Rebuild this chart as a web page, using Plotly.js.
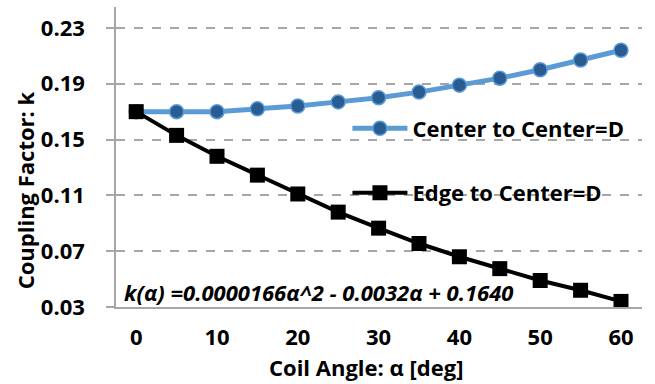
<!DOCTYPE html>
<html>
<head>
<meta charset="utf-8">
<script src="https://cdn.plot.ly/plotly-3.0.1.min.js"></script>
<style>html,body{margin:0;padding:0;background:#fff;}#chart{width:655px;height:384px;}</style>
</head>
<body>
<div id="chart"></div>
<script>
const angles = [0, 5, 10, 15, 20, 25, 30, 35, 40, 45, 50, 55, 60];
const centerToCenter = [0.170, 0.170, 0.170, 0.172, 0.174, 0.177, 0.180, 0.184, 0.189, 0.194, 0.200, 0.207, 0.214];
const edgeToCenter = [0.170, 0.153, 0.138, 0.1245, 0.111, 0.098, 0.0865, 0.0755, 0.066, 0.0575, 0.049, 0.042, 0.034];
const seriesNames = ["Center to Center=D", "Edge to Center=D"];
const yTicks = [0.03, 0.07, 0.11, 0.15, 0.19, 0.23];
const xTicks = [0, 10, 20, 30, 40, 50, 60];
const xTitle = "Coil Angle: α [deg]";
const yTitle = "Coupling Factor: k";
const fitText = "k(α) =0.0000166α^2 - 0.0032α + 0.1640";

const FONT = "'Open Sans', 'Noto Sans', sans-serif";
const boldFont = {family: FONT, size: 22, weight: 700, color: "#000"};

const traces = [
  {
    x: angles, y: centerToCenter, name: seriesNames[0], type: "scatter", mode: "lines+markers",
    line: {color: "#5b9bd5", width: 5},
    marker: {symbol: "circle", size: 14, color: "#2a5c94", line: {color: "#5b9bd5", width: 1.5}},
    legend: "legend"
  },
  {
    x: angles, y: edgeToCenter, name: seriesNames[1], type: "scatter", mode: "lines+markers",
    line: {color: "#000000", width: 4},
    marker: {symbol: "square", size: 15, color: "#000000"},
    legend: "legend2"
  }
];

const legendCommon = {
  bgcolor: "rgba(0,0,0,0)", borderwidth: 0,
  font: boldFont,
  xanchor: "left", yanchor: "middle", itemwidth: 55, tracegroupgap: 0
};

const layout = {
  width: 655, height: 384,
  margin: {l: 116, r: 13, t: 7, b: 77},
  paper_bgcolor: "#fff", plot_bgcolor: "#fff",
  font: {family: FONT, color: "#000"},
  showlegend: true,
  legend: Object.assign({}, legendCommon, {x: 0.44, y: 0.595}),
  legend2: Object.assign({}, legendCommon, {x: 0.44, y: 0.38}),
  xaxis: {
    range: [-2.5, 62.6], tickvals: xTicks, ticktext: xTicks.map(String),
    showgrid: false, zeroline: false,
    showline: true, linecolor: "#a6a6a6", linewidth: 1.5,
    ticks: "", ticklabelstandoff: 10,
    tickfont: boldFont
  },
  yaxis: {
    range: [0.03, 0.245], tickvals: yTicks, ticktext: yTicks.map(v => v.toFixed(2)),
    showgrid: true, gridcolor: "#a6a6a6", griddash: "dash", gridwidth: 1.5,
    zeroline: false, showline: true, linecolor: "#a6a6a6", linewidth: 1.5,
    ticks: "outside", ticklen: 8, tickcolor: "#a6a6a6", tickwidth: 1.5, ticklabelstandoff: 17,
    tickfont: boldFont
  },
  annotations: [
    {
      text: fitText, xref: "paper", yref: "paper", x: 0.012, y: 0.05, xanchor: "left", yanchor: "middle",
      showarrow: false, font: {family: FONT, size: 22, weight: 700, style: "italic", color: "#000"}
    },
    {
      text: xTitle, xref: "paper", yref: "paper", x: 0.475, y: -0.2, xanchor: "center", yanchor: "middle",
      showarrow: false, font: boldFont
    },
    {
      text: yTitle, xref: "paper", yref: "paper", x: -0.173, y: 0.389, xanchor: "center", yanchor: "middle",
      textangle: -90, showarrow: false, font: boldFont
    }
  ]
};

Plotly.newPlot("chart", traces, layout, {displayModeBar: false, responsive: false});
</script>
</body>
</html>
